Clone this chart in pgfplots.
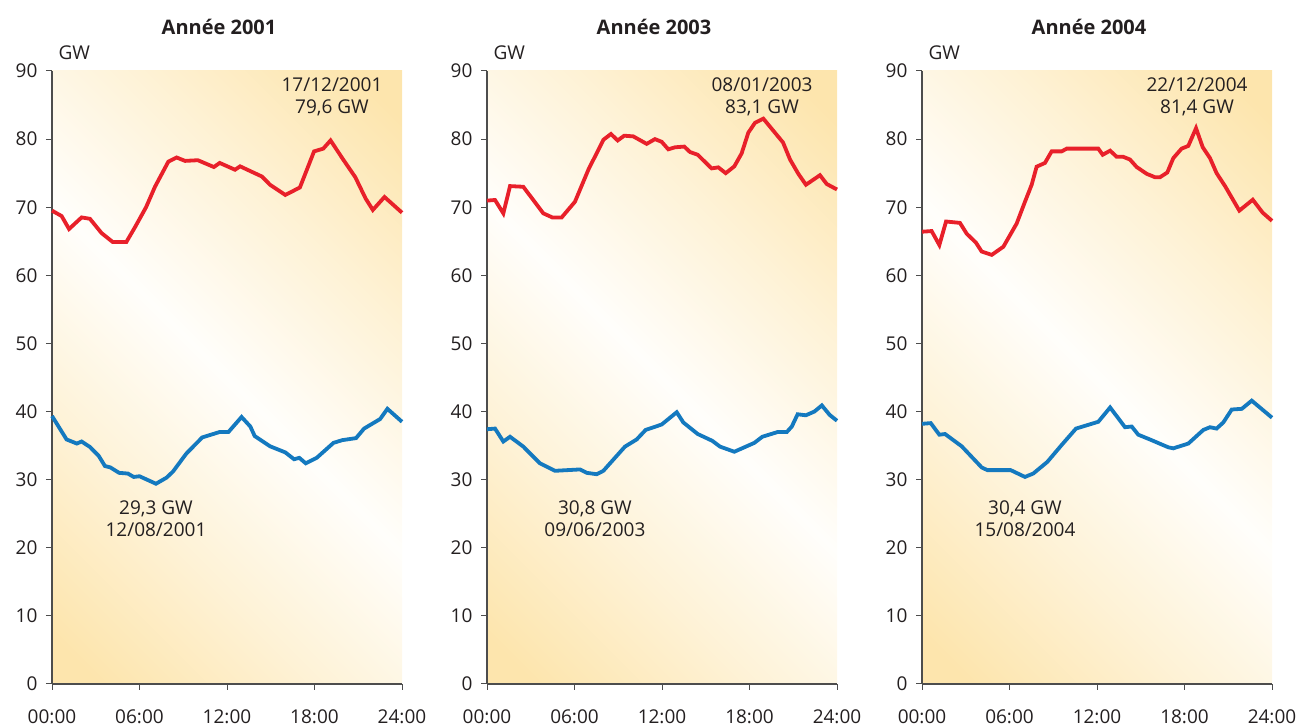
\documentclass[border=0pt]{standalone}
\usepackage{fontspec}
\setmainfont{Open Sans}
\usepackage{pgfplots}
\pgfplotsset{compat=1.18}

\definecolor{sunny}{HTML}{FDE5AD}
\definecolor{halfsun}{HTML}{FEF2D6}
\definecolor{pale}{HTML}{FFFEFB}
\definecolor{peakred}{HTML}{E8202A}
\definecolor{lowblue}{HTML}{1479BF}
\definecolor{axisgray}{HTML}{4D4D4D}
\definecolor{txt}{HTML}{231F20}

% yellow in two opposite corners, white along the other diagonal
\pgfdeclareverticalshading{diagsun}{100bp}{color(0bp)=(sunny); color(18bp)=(sunny);
  color(34bp)=(halfsun); color(50bp)=(pale); color(66bp)=(halfsun);
  color(82bp)=(sunny); color(100bp)=(sunny)}

\newcommand{\lbl}{\fontsize{19}{22}\selectfont}

\pgfplotsset{
  jour/.style={
    scale only axis, width=350pt, height=613pt,
    anchor=south west,
    xmin=0, xmax=24, ymin=0, ymax=90,
    xtick={0,6,12,18,24},
    xticklabels={00:00,06:00,12:00,18:00,24:00},
    ytick={0,10,...,90},
    axis x line*=bottom, axis y line*=left,
    tick align=outside, major tick length=6pt,
    axis line style={axisgray, line width=1.2pt},
    tick style={axisgray, line width=1pt},
    tick label style={font=\lbl, text=txt},
    /pgf/number format/assume math mode=true,
    xticklabel style={yshift=-16pt},
    yticklabel style={xshift=-5pt},
    axis background/.style={shade, shading=diagsun, shading angle=-45},
    clip=false,
  },
  pic/.style={peakred, line width=3.8pt, no markers},
  creux/.style={lowblue, line width=3.8pt, no markers},
}

\newcommand{\decor}[1]{%
  \node[anchor=base, xshift=-8pt, yshift=36pt, text=txt,
    font=\fontsize{20}{20}\selectfont\bfseries] at (rel axis cs:0.5,1) {#1};
  \node[anchor=base west, xshift=3pt, yshift=11pt, text=txt, font=\lbl]
    at (rel axis cs:0,1) {GW};
}

\begin{document}
\begin{tikzpicture}
\path[use as bounding box] (0pt,0pt) rectangle (1299pt,727pt);

% ---- 2001
\begin{axis}[jour, at={(52pt,43pt)}]
\decor{Année 2001}
\addplot[pic] coordinates {
(0,69.5)(0.66,68.7)(1.17,66.8)(2.03,68.5)(2.6,68.3)(3.4,66.2)(4.16,64.9)
(5.1,64.9)(5.7,67.1)(6.45,70.0)(7.06,73.0)(7.98,76.7)(8.55,77.3)(9.12,76.8)
(10.0,76.9)(11.1,75.9)(11.5,76.5)(12.55,75.5)(12.9,76.0)(14.4,74.5)(14.95,73.3)
(16.0,71.8)(17.0,72.9)(17.97,78.2)(18.6,78.6)(19.1,79.8)(20.0,76.9)(20.8,74.4)
(21.5,71.3)(22.0,69.6)(22.8,71.5)(24,69.2)
};
\addplot[creux] coordinates {
(0,39.35)(1.0,35.9)(1.7,35.3)(2.03,35.6)(2.6,34.8)(3.2,33.5)(3.63,32.0)
(4.0,31.8)(4.6,31.0)(5.2,30.9)(5.6,30.4)(6.0,30.5)(7.13,29.4)(7.86,30.3)
(8.3,31.2)(9.2,33.8)(10.3,36.2)(11.5,37.0)(12.1,37.0)(13.0,39.2)(13.6,37.8)
(13.9,36.4)(14.95,34.9)(16.0,34.0)(16.6,33.0)(16.96,33.2)(17.4,32.4)(18.15,33.2)
(19.3,35.4)(19.9,35.8)(20.85,36.1)(21.4,37.5)(22.5,38.9)(23.0,40.4)(24,38.5)
};
\node[align=center, font=\lbl, text=txt] at (axis cs:19.2,86.2) {17/12/2001\\79,6 GW};
\node[align=center, font=\lbl, text=txt] at (axis cs:7.13,24.3) {29,3 GW\\12/08/2001};
\end{axis}

% ---- 2003
\begin{axis}[jour, at={(487pt,43pt)}]
\decor{Année 2003}
\addplot[pic] coordinates {
(0,70.97)(0.55,71.06)(1.12,69.1)(1.58,73.1)(2.49,73.0)(3.86,69.1)(4.48,68.5)
(5.12,68.5)(6.03,70.8)(6.95,75.5)(7.98,79.9)(8.5,80.75)(8.96,79.8)(9.41,80.5)
(10.03,80.4)(10.95,79.3)(11.52,80.0)(11.98,79.6)(12.43,78.5)(12.9,78.8)
(13.53,78.9)(13.92,78.1)(14.45,77.7)(15.4,75.7)(15.86,75.85)(16.37,75.0)
(16.96,76.0)(17.46,77.9)(17.92,80.95)(18.38,82.4)(18.95,83.0)(20.3,79.5)
(20.78,77.0)(21.35,74.9)(21.87,73.3)(22.83,74.7)(23.3,73.4)(24,72.6)
};
\addplot[creux] coordinates {
(0,37.4)(0.55,37.5)(1.12,35.6)(1.58,36.3)(2.49,34.85)(3.63,32.4)(4.66,31.3)
(6.38,31.5)(6.84,31.0)(7.52,30.8)(7.98,31.3)(9.46,34.85)(10.26,35.9)(10.88,37.3)
(11.98,38.1)(13.01,39.9)(13.46,38.4)(14.45,36.7)(15.45,35.7)(15.98,34.85)
(16.96,34.1)(18.33,35.4)(18.88,36.3)(19.94,37.0)(20.56,37.0)(20.9,37.8)
(21.3,39.6)(21.86,39.45)(22.45,40.0)(22.96,40.9)(23.5,39.5)(24,38.65)
};
\node[align=center, font=\lbl, text=txt] at (axis cs:18.86,86.2) {08/01/2003\\83,1 GW};
\node[align=center, font=\lbl, text=txt] at (axis cs:7.4,24.3) {30,8 GW\\09/06/2003};
\end{axis}

% ---- 2004
\begin{axis}[jour, at={(922pt,43pt)}]
\decor{Année 2004}
\addplot[pic] coordinates {
(0,66.4)(0.66,66.5)(1.19,64.45)(1.65,67.9)(2.6,67.7)(3.07,66.1)(3.7,64.8)
(4.09,63.5)(4.78,63.0)(5.58,64.2)(6.49,67.6)(7.06,70.8)(7.52,73.3)(7.86,75.95)
(8.43,76.5)(8.89,78.2)(9.58,78.2)(9.92,78.6)(12.09,78.6)(12.39,77.7)(12.9,78.3)
(13.35,77.4)(13.8,77.4)(14.26,77.0)(14.72,75.9)(15.41,74.9)(15.98,74.4)
(16.32,74.4)(16.82,75.1)(17.23,77.2)(17.8,78.6)(18.26,79.0)(18.79,81.6)
(19.25,78.8)(19.75,77.2)(20.2,75.0)(20.78,73.1)(21.76,69.5)(22.68,71.1)
(23.36,69.2)(24,68.0)
};
\addplot[creux] coordinates {
(0,38.2)(0.6,38.3)(1.19,36.6)(1.58,36.7)(2.72,34.9)(4.09,31.8)(4.48,31.4)
(6.08,31.4)(7.06,30.4)(7.63,30.9)(8.59,32.6)(9.58,35.1)(10.56,37.5)(12.09,38.5)
(12.9,40.6)(13.92,37.7)(14.38,37.8)(14.83,36.6)(15.63,35.9)(16.89,34.75)
(17.23,34.6)(18.26,35.3)(19.29,37.3)(19.75,37.7)(20.2,37.5)(20.66,38.4)
(21.24,40.3)(21.93,40.4)(22.61,41.6)(24,39.1)
};
\node[align=center, font=\lbl, text=txt] at (axis cs:18.86,86.2) {22/12/2004\\81,4 GW};
\node[align=center, font=\lbl, text=txt] at (axis cs:7.06,24.3) {30,4 GW\\15/08/2004};
\end{axis}
\end{tikzpicture}
\end{document}
